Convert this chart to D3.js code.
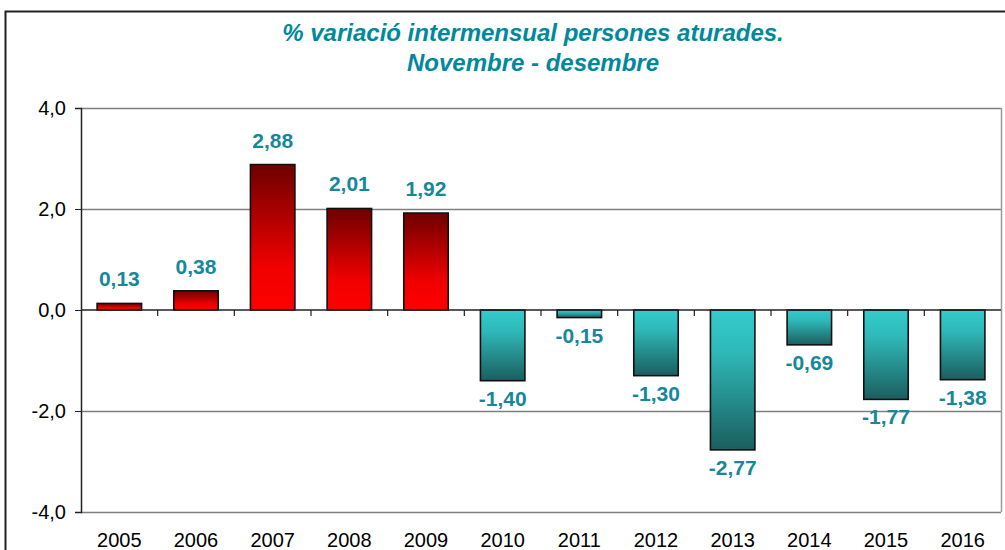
<!DOCTYPE html>
<html>
<head>
<meta charset="utf-8">
<script src="https://cdn.jsdelivr.net/npm/d3@7"></script>
<style>
  body { margin: 0; background: #fff; }
  text { font-family: "Liberation Sans", Arial, sans-serif; }
</style>
</head>
<body>
<div id="chart-area"></div>
<script>
// dades
const years = ["2005", "2006", "2007", "2008", "2009", "2010", "2011", "2012", "2013", "2014", "2015", "2016"]
const values = [0.13, 0.38, 2.88, 2.01, 1.92, -1.40, -0.15, -1.30, -2.77, -0.69, -1.77, -1.38]
const yTicks = [-4, -2, 0, 2, 4]
const titleLines = ["% variació intermensual persones aturades.", "Novembre - desembre"]

const width = 1005, height = 550
const margin = { left: 81, right: 4, top: 108, bottom: 38 }

const svg = d3.select("#chart-area").append("svg")
	.attr("width", width)
	.attr("height", height)

// gradients per a les barres
const defs = svg.append("defs")
const gRed = defs.append("linearGradient").attr("id", "gRed")
	.attr("x1", 0).attr("y1", 0).attr("x2", 0).attr("y2", 1)
gRed.append("stop").attr("offset", "0%").attr("stop-color", "#6e0000")
gRed.append("stop").attr("offset", "70%").attr("stop-color", "#f00000")
gRed.append("stop").attr("offset", "100%").attr("stop-color", "#ff0000")
const gTeal = defs.append("linearGradient").attr("id", "gTeal")
	.attr("x1", 0).attr("y1", 0).attr("x2", 0).attr("y2", 1)
gTeal.append("stop").attr("offset", "0%").attr("stop-color", "#33cccc")
gTeal.append("stop").attr("offset", "30%").attr("stop-color", "#2fb8b8")
gTeal.append("stop").attr("offset", "100%").attr("stop-color", "#1b5e5e")

// marc exterior
svg.append("rect")
	.attr("x", 5.5).attr("y", 11.5)
	.attr("width", 1010).attr("height", 560)
	.attr("fill", "none").attr("stroke", "#222").attr("stroke-width", 2)

const x = d3.scaleBand()
	.domain(years)
	.range([margin.left, width - margin.right])
	.paddingInner(0.42)
	.paddingOuter(0.21)

const y = d3.scaleLinear()
	.domain([-4, 4])
	.range([height - margin.bottom, margin.top])

// format català amb guió normal
const fmtN = (v, p) => d3.format("." + p + "f")(v).replace("\u2212", "-").replace(".", ",")

// línies de la graella
svg.append("g").selectAll("line")
	.data(yTicks.filter(d => d !== 0))
	.enter().append("line")
		.attr("x1", margin.left).attr("x2", width - margin.right)
		.attr("y1", d => y(d) + 0.5).attr("y2", d => y(d) + 0.5)
		.attr("stroke", "#7f7f7f").attr("stroke-width", 1.5)

// vora dreta
svg.append("line")
	.attr("x1", width - margin.right + 0.5).attr("x2", width - margin.right + 0.5)
	.attr("y1", y(4)).attr("y2", y(-4))
	.attr("stroke", "#9a9a9a").attr("stroke-width", 1.5)

// barres
svg.append("g").selectAll("rect")
	.data(values)
	.enter().append("rect")
		.attr("x", (d, i) => x(years[i]))
		.attr("y", d => y(Math.max(0, d)))
		.attr("width", x.bandwidth())
		.attr("height", d => Math.abs(y(d) - y(0)))
		.attr("fill", d => d >= 0 ? "url(#gRed)" : "url(#gTeal)")
		.attr("stroke", "#111").attr("stroke-width", 1.6)

// eix Y
const yAxis = d3.axisLeft(y)
	.tickValues(yTicks)
	.tickSize(6)
	.tickFormat(d => fmtN(d, 1))
const gy = svg.append("g")
	.attr("transform", `translate(${margin.left},0)`)
	.call(yAxis)
gy.select(".domain").attr("stroke", "#222").attr("stroke-width", 1.5)
gy.selectAll(".tick line").attr("stroke", "#222")
gy.selectAll(".tick text")
	.attr("x", -15)
	.attr("font-size", 20)
	.attr("fill", "#000")

// línia del zero amb marques entre categories
const step = x.step()
const bounds = d3.range(1, years.length).map(i => x(years[i]) - x.paddingInner() * step / 2)
svg.append("line")
	.attr("x1", margin.left).attr("x2", width - margin.right)
	.attr("y1", y(0)).attr("y2", y(0))
	.attr("stroke", "#222").attr("stroke-width", 1.5)
svg.append("g").selectAll("line")
	.data(bounds)
	.enter().append("line")
		.attr("x1", d => d).attr("x2", d => d)
		.attr("y1", y(0)).attr("y2", y(0) + 6)
		.attr("stroke", "#222").attr("stroke-width", 1.2)

// etiquetes d'anys
svg.append("g").selectAll("text")
	.data(years)
	.enter().append("text")
		.attr("x", d => x(d) + x.bandwidth() / 2)
		.attr("y", height - 3)
		.attr("text-anchor", "middle")
		.attr("font-size", 20)
		.attr("fill", "#000")
		.text(d => d)

// etiquetes de valors
svg.append("g").selectAll("text")
	.data(values)
	.enter().append("text")
		.attr("x", (d, i) => x(years[i]) + x.bandwidth() / 2)
		.attr("y", d => d >= 0 ? y(d) - 17 : y(d) + 25)
		.attr("text-anchor", "middle")
		.attr("font-size", 21)
		.attr("font-weight", "bold")
		.attr("fill", "#17879a")
		.text(d => fmtN(d, 2))

// títol
svg.append("g").selectAll("text")
	.data(titleLines)
	.enter().append("text")
		.attr("x", 533)
		.attr("y", (d, i) => 41 + i * 30)
		.attr("text-anchor", "middle")
		.attr("font-size", 24)
		.attr("font-weight", "bold")
		.attr("font-style", "italic")
		.attr("fill", "#00899a")
		.text(d => d)
</script>
</body>
</html>
